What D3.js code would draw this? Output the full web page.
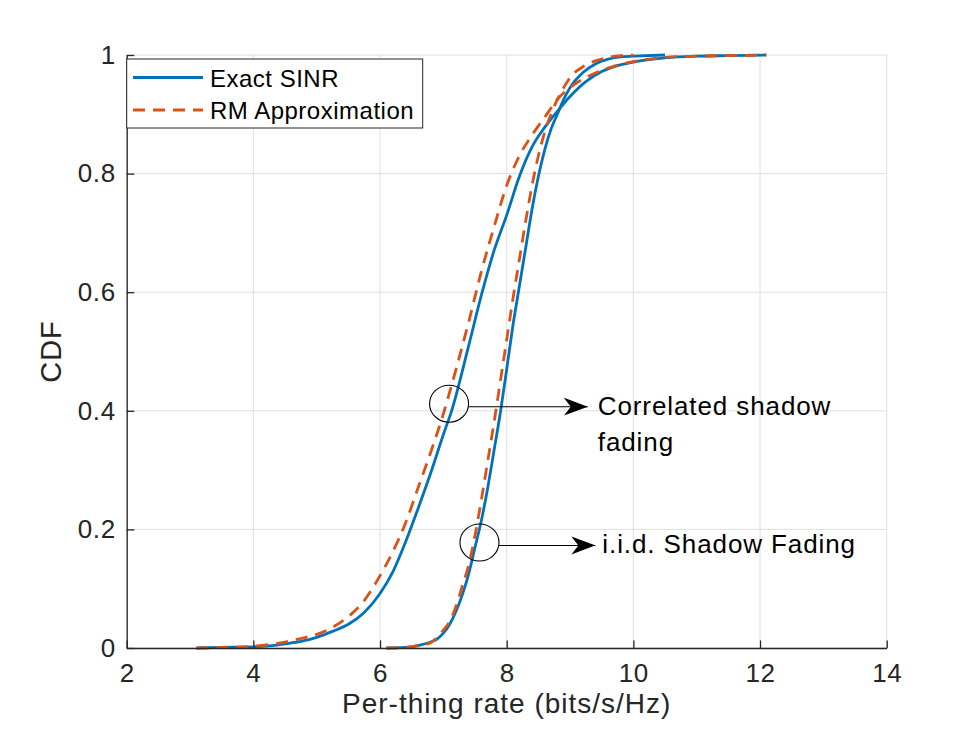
<!DOCTYPE html>
<html>
<head>
<meta charset="utf-8">
<script src="https://cdn.jsdelivr.net/npm/d3@7"></script>
<style>
  body { margin: 0; background: #fff; }
  svg { display: block; font-family: "Liberation Sans", Arial, Helvetica, sans-serif; }
</style>
</head>
<body>
<svg id="chart" width="980" height="735"></svg>
<script>
// x ticks / y ticks
const xTicks = [2, 4, 6, 8, 10, 12, 14];
const yTicks = [0, 0.2, 0.4, 0.6, 0.8, 1];

// correlated shadow fading, exact SINR
const corrExactX = [3.1, 3.5, 4.0, 4.2, 4.5, 4.75, 5.0, 5.25, 5.5, 5.75, 6.0, 6.2, 6.4, 6.6, 6.8, 7.0, 7.13, 7.4, 7.6, 7.8, 8.0, 8.2, 8.4, 8.6, 8.8, 9.0, 9.25, 9.5, 9.75, 10.0, 10.5, 11.0, 11.5, 12.1];
const corrExactY = [0, 0.001, 0.002, 0.003, 0.007, 0.011, 0.018, 0.028, 0.04, 0.06, 0.092, 0.128, 0.178, 0.235, 0.295, 0.36, 0.40, 0.51, 0.595, 0.67, 0.73, 0.795, 0.845, 0.878, 0.905, 0.93, 0.955, 0.972, 0.982, 0.988, 0.995, 0.998, 0.999, 1];

// correlated shadow fading, RM approximation
const corrApproxX = [3.1, 3.5, 4.0, 4.5, 4.75, 5.0, 5.25, 5.5, 5.75, 6.0, 6.2, 6.4, 6.6, 6.8, 7.0, 7.2, 7.4, 7.6, 7.8, 8.0, 8.2, 8.4, 8.6, 8.8, 9.0, 9.25, 9.5, 9.75, 10.0, 10.5, 11.0, 11.5, 12.1];
const corrApproxY = [0, 0.001, 0.003, 0.01, 0.016, 0.023, 0.035, 0.053, 0.08, 0.122, 0.162, 0.21, 0.27, 0.33, 0.395, 0.47, 0.55, 0.635, 0.71, 0.78, 0.83, 0.865, 0.895, 0.925, 0.945, 0.962, 0.974, 0.983, 0.989, 0.996, 0.998, 0.999, 1];

// i.i.d. shadow fading, exact SINR
const iidExactX = [6.1, 6.4, 6.6, 6.8, 6.9, 7.0, 7.1, 7.2, 7.3, 7.4, 7.5, 7.6, 7.7, 7.8, 7.9, 8.0, 8.1, 8.2, 8.3, 8.4, 8.5, 8.6, 8.7, 8.8, 8.9, 9.0, 9.2, 9.4, 9.6, 9.8, 10.0, 10.5];
const iidExactY = [0, 0.001, 0.004, 0.01, 0.015, 0.025, 0.04, 0.062, 0.09, 0.125, 0.17, 0.215, 0.27, 0.333, 0.397, 0.47, 0.545, 0.61, 0.675, 0.74, 0.795, 0.84, 0.875, 0.9, 0.925, 0.945, 0.97, 0.985, 0.993, 0.997, 0.998, 1];

// i.i.d. shadow fading, RM approximation
const iidApproxX = [6.1, 6.4, 6.6, 6.8, 6.9, 7.0, 7.1, 7.2, 7.3, 7.4, 7.5, 7.6, 7.7, 7.8, 7.9, 8.0, 8.1, 8.2, 8.3, 8.4, 8.5, 8.6, 8.7, 8.8, 8.9, 9.0, 9.2, 9.4, 9.6, 9.8, 10.0];
const iidApproxY = [0, 0.001, 0.004, 0.009, 0.018, 0.03, 0.045, 0.07, 0.105, 0.14, 0.19, 0.25, 0.315, 0.38, 0.45, 0.52, 0.59, 0.655, 0.72, 0.78, 0.83, 0.87, 0.9, 0.925, 0.945, 0.962, 0.98, 0.99, 0.996, 0.999, 1];

// annotations (data coordinates)
const noteCircleX = [7.09, 7.57];
const noteCircleY = [0.412, 0.178];
const noteArrowEndX = [9.28, 9.4];
const noteText = [["Correlated shadow", "fading"], ["i.i.d. Shadow Fading"]];

const legendNames = ["Exact SINR", "RM Approximation"];

const blue = "#0072BD";
const orange = "#D95319";
const axisColor = "#262626";

const svg = d3.select("#chart");

const x = d3.scaleLinear().domain([2, 14]).range([126.7, 886.7]);
const y = d3.scaleLinear().domain([0, 1]).range([648, 55]);

// grid
svg.append("g").selectAll("line.vgrid")
    .data(xTicks)
    .enter().append("line")
    .attr("x1", d => x(d)).attr("x2", d => x(d))
    .attr("y1", y(0)).attr("y2", y(1))
    .style("stroke", "#dfdfdf").style("stroke-width", 1);

svg.append("g").selectAll("line.hgrid")
    .data(yTicks)
    .enter().append("line")
    .attr("x1", x(2)).attr("x2", x(14))
    .attr("y1", d => y(d)).attr("y2", d => y(d))
    .style("stroke", "#dfdfdf").style("stroke-width", 1);

// curves
const line = d3.line()
    .x(d => x(d[0]))
    .y(d => y(d[1]))
    .curve(d3.curveMonotoneX);

const series = [
    {xs: corrExactX, ys: corrExactY, color: blue, dash: null},
    {xs: iidExactX, ys: iidExactY, color: blue, dash: null},
    {xs: corrApproxX, ys: corrApproxY, color: orange, dash: "12,8"},
    {xs: iidApproxX, ys: iidApproxY, color: orange, dash: "12,8"}
];

series.forEach(s => {
    svg.append("path")
        .datum(d3.zip(s.xs, s.ys))
        .attr("d", line)
        .style("fill", "none")
        .style("stroke", s.color)
        .style("stroke-width", 2.8)
        .style("stroke-dasharray", s.dash);
});

// axes
const xAxis = d3.axisBottom(x)
    .tickValues(xTicks)
    .tickSizeInner(-7.6)
    .tickSizeOuter(0)
    .tickPadding(15.5);

const yAxis = d3.axisLeft(y)
    .tickValues(yTicks)
    .tickFormat(d => d === 0 || d === 1 ? d3.format("d")(d) : d3.format(".1f")(d))
    .tickSizeInner(-7.6)
    .tickSizeOuter(0)
    .tickPadding(11);

const gx = svg.append("g")
    .attr("transform", `translate(0,${y(0)})`)
    .call(xAxis);

const gy = svg.append("g")
    .attr("transform", `translate(${x(2)},0)`)
    .call(yAxis);

[gx, gy].forEach(g => {
    g.select(".domain").style("stroke", axisColor).style("stroke-width", 1.3);
    g.selectAll(".tick line").style("stroke", axisColor).style("stroke-width", 1.3);
    g.selectAll(".tick text")
        .style("fill", axisColor)
        .style("font-size", "26px")
        .style("letter-spacing", "0.6px")
        .style("font-family", "'Liberation Sans', Arial, sans-serif");
});

// axis labels
svg.append("text")
    .attr("x", (x(2) + x(14)) / 2)
    .attr("y", 713)
    .attr("text-anchor", "middle")
    .style("font-size", "28px")
    .style("letter-spacing", "1px")
    .style("fill", axisColor)
    .text("Per-thing rate (bits/s/Hz)");

svg.append("text")
    .attr("transform", `translate(61,${(y(0) + y(1)) / 2}) rotate(-90)`)
    .attr("text-anchor", "middle")
    .style("font-size", "29px")
    .style("letter-spacing", "1px")
    .style("fill", axisColor)
    .text("CDF");

// annotations
svg.append("defs").append("marker")
    .attr("id", "head")
    .attr("viewBox", "0 0 24 20")
    .attr("refX", 24)
    .attr("refY", 10)
    .attr("markerWidth", 24)
    .attr("markerHeight", 20)
    .attr("markerUnits", "userSpaceOnUse")
    .attr("orient", "auto")
    .append("path")
    .attr("d", "M0,1 L24,10 L0,19 L7,10 Z")
    .style("fill", "#000");

noteCircleX.forEach((cx, i) => {
    const px = x(cx), py = y(noteCircleY[i]);
    svg.append("ellipse")
        .attr("cx", px).attr("cy", py)
        .attr("rx", 19.5).attr("ry", 18.5)
        .style("fill", "none")
        .style("stroke", "#000")
        .style("stroke-width", 1.1);

    svg.append("line")
        .attr("x1", px + 19.5).attr("y1", py + 3)
        .attr("x2", x(noteArrowEndX[i])).attr("y2", py + 3)
        .style("stroke", "#000")
        .style("stroke-width", 1.1)
        .attr("marker-end", "url(#head)");

    const tx = x(noteArrowEndX[i]) + (i === 0 ? 10 : 7);
    const t = svg.append("text")
        .attr("x", tx)
        .attr("y", py + 11)
        .style("font-size", "26px")
        .style("letter-spacing", "0.9px")
        .style("fill", "#000");
    noteText[i].forEach((s, j) => {
        t.append("tspan")
            .attr("x", tx)
            .attr("dy", j === 0 ? 0 : 36)
            .text(s);
    });
});

// legend
const legend = svg.append("g");
legend.append("rect")
    .attr("x", 126.7).attr("y", 59)
    .attr("width", 296).attr("height", 69)
    .style("fill", "#fff")
    .style("stroke", axisColor)
    .style("stroke-width", 1);

legendNames.forEach((name, i) => {
    const ly = 77.5 + i * 32.5;
    legend.append("line")
        .attr("x1", 133).attr("x2", 203)
        .attr("y1", ly).attr("y2", ly)
        .style("stroke", i === 0 ? blue : orange)
        .style("stroke-width", 3)
        .style("stroke-dasharray", i === 0 ? null : "12,8");
    legend.append("text")
        .attr("x", 210)
        .attr("y", ly + 9)
        .style("font-size", "24px")
        .style("letter-spacing", "0.5px")
        .style("fill", "#000")
        .text(name);
});
</script>
</body>
</html>
